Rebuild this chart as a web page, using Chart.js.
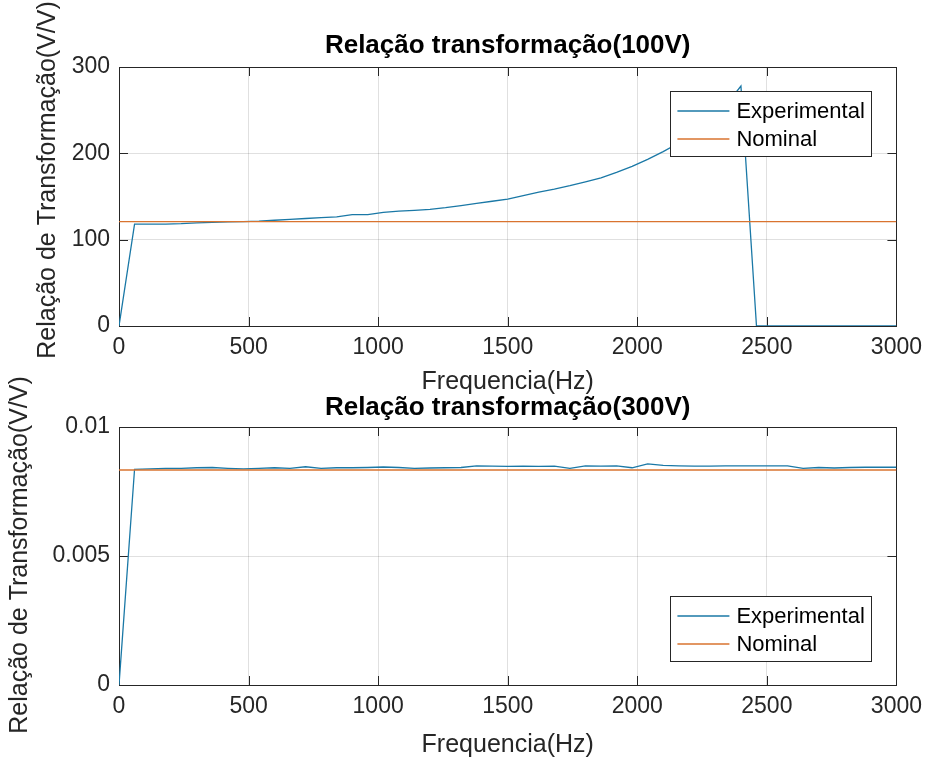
<!DOCTYPE html>
<html>
<head>
<meta charset="utf-8">
<script src="https://cdn.jsdelivr.net/npm/chart.js@4.4.1/dist/chart.umd.min.js"></script>
<style>
  html, body { margin: 0; padding: 0; background: #ffffff; }
  body { width: 930px; height: 762px; position: relative; overflow: hidden; }
  canvas { position: absolute; left: 0; }
  #c1 { top: 0px; }
  #c2 { top: 362px; }
</style>
</head>
<body>
<canvas id="c1" width="930" height="400"></canvas>
<canvas id="c2" width="930" height="400"></canvas>
<script>
// ---------------- data ----------------
const freqHz = [0, 60, 120, 180, 240, 300, 360, 420, 480, 540, 600, 660, 720, 780, 840, 900, 960, 1020, 1080, 1140,
  1200, 1260, 1320, 1380, 1440, 1500, 1560, 1620, 1680, 1740, 1800, 1860, 1920, 1980, 2040, 2100, 2160, 2220, 2280,
  2340, 2400, 2460, 2520, 2580, 2640, 2700, 2760, 2820, 2880, 2940, 3000];

const experimental100V = [0, 118, 118, 118, 118.5, 119.5, 120, 120.5, 121, 121.5, 122.5, 123.5, 124.5, 125.5, 126.5,
  129, 129, 131.5, 133, 134, 135, 137, 139.5, 142, 144.5, 147, 151, 155, 158.5, 162.5, 167, 171.5, 178, 185, 193,
  202, 212, 224, 238, 255, 278, 0, 0, 0, 0, 0, 0, 0, 0, 0, 0];

const experimental300V = [0, 0.00836, 0.00838, 0.0084, 0.0084, 0.00842, 0.00843, 0.0084, 0.00838, 0.0084, 0.00842,
  0.0084, 0.00846, 0.0084, 0.00842, 0.00842, 0.00843, 0.00845, 0.00843, 0.0084, 0.00841, 0.00842, 0.00843, 0.00849,
  0.00848, 0.00847, 0.00848, 0.00847, 0.00848, 0.0084, 0.00849, 0.00848, 0.00849, 0.00842, 0.00857, 0.00851, 0.00849,
  0.00848, 0.00848, 0.00849, 0.00849, 0.00849, 0.00849, 0.00849, 0.0084, 0.00843, 0.00841, 0.00843, 0.00844, 0.00844,
  0.00844];

const nominalFreqHz = [0, 3000];
const nominal100V = [121, 121];
const nominal300V = [0.008333, 0.008333];

const xTickLabels = ['0', '500', '1000', '1500', '2000', '2500', '3000'];
const yTickLabels100V = ['0', '100', '200', '300'];
const yTickLabels300V = ['0', '0.005', '0.01'];

const seriesNames = ['Experimental', 'Nominal'];
const titles = ['Relação transformação(100V)', 'Relação transformação(300V)'];
const xAxisLabel = 'Frequencia(Hz)';
const yAxisLabel = 'Relação de Transformação(V/V)';

// ---------------- style ----------------
const FONT = '"Liberation Sans", Arial, Helvetica, sans-serif';
const AXIS_COLOR = '#262626';
const EXP_COLOR = '#1a78a6';
const NOM_COLOR = '#d9732f';

function pts(xs, ys) { return xs.map((x, i) => ({ x: x, y: ys[i] })); }

function decor(cfg) {
  return {
    id: 'decor',
    afterLayout(chart) {
      // centre the title over the plot area, as MATLAB does
      if (chart.titleBlock) {
        chart.titleBlock.left = chart.chartArea.left;
        chart.titleBlock.right = chart.chartArea.right;
      }
    },
    beforeDatasetsDraw(chart) {
      const ctx = chart.ctx, a = chart.chartArea;
      const xs = chart.scales.x, ys = chart.scales.y;
      ctx.save();
      ctx.strokeStyle = AXIS_COLOR;
      ctx.lineWidth = 1;
      ctx.strokeRect(Math.round(a.left) + 0.5, Math.round(a.top) + 0.5,
        Math.round(a.right - a.left), Math.round(a.bottom - a.top));
      const TL = 9;
      ctx.beginPath();
      xs.ticks.forEach(t => {
        const px = Math.round(xs.getPixelForValue(t.value)) + 0.5;
        ctx.moveTo(px, a.bottom); ctx.lineTo(px, a.bottom - TL);
        ctx.moveTo(px, a.top); ctx.lineTo(px, a.top + TL);
      });
      ys.ticks.forEach(t => {
        const py = Math.round(ys.getPixelForValue(t.value)) + 0.5;
        ctx.moveTo(a.left, py); ctx.lineTo(a.left + TL, py);
        ctx.moveTo(a.right, py); ctx.lineTo(a.right - TL, py);
      });
      ctx.stroke();
      ctx.restore();
    },
    afterDatasetsDraw(chart) {
      const ctx = chart.ctx, a = chart.chartArea;
      // legend box
      const w = 201, h = 65;
      const left = a.right - 25 - w;
      const top = cfg.legendTop ? a.top + 24 : a.bottom - 24 - h;
      ctx.save();
      ctx.fillStyle = '#ffffff';
      ctx.fillRect(left, top, w, h);
      ctx.strokeStyle = AXIS_COLOR;
      ctx.lineWidth = 1;
      ctx.strokeRect(Math.round(left) + 0.5, Math.round(top) + 0.5, w, h);
      const rows = [top + 20, top + 48];
      const cols = [EXP_COLOR, NOM_COLOR];
      rows.forEach((ry, i) => {
        ctx.strokeStyle = cols[i];
        ctx.lineWidth = 1.3;
        ctx.beginPath();
        ctx.moveTo(left + 7, ry); ctx.lineTo(left + 59, ry);
        ctx.stroke();
        ctx.fillStyle = '#000000';
        ctx.font = '22px ' + FONT;
        ctx.textAlign = 'left';
        ctx.textBaseline = 'middle';
        ctx.fillText(chart.data.datasets[i].label, left + 66, ry + 1);
      });
      ctx.restore();
    },
    afterDraw(chart) {
      const ctx = chart.ctx;
      ctx.save();
      ctx.translate(cfg.ylabelX, cfg.ylabelY);
      ctx.rotate(-Math.PI / 2);
      ctx.font = '25px ' + FONT;
      ctx.fillStyle = AXIS_COLOR;
      ctx.textAlign = 'center';
      ctx.textBaseline = 'middle';
      ctx.fillText(yAxisLabel, 0, 0);
      ctx.restore();
    }
  };
}

function makeChart(id, expData, nomData, yMax, yStep, yLabels, title, cfg) {
  return new Chart(document.getElementById(id), {
    type: 'line',
    data: {
      datasets: [
        { label: seriesNames[0], data: pts(freqHz, expData), borderColor: EXP_COLOR, borderWidth: 1.3,
          pointRadius: 0, tension: 0, fill: false, order: 1 },
        { label: seriesNames[1], data: pts(nominalFreqHz, nomData), borderColor: NOM_COLOR, borderWidth: 1.3,
          pointRadius: 0, tension: 0, fill: false, order: 0 }
      ]
    },
    options: {
      responsive: false,
      animation: false,
      devicePixelRatio: 1,
      layout: { padding: { left: 0, right: 28, top: 0, bottom: 0 } },
      plugins: {
        legend: { display: false },
        tooltip: { enabled: false },
        title: {
          display: true, text: title, color: '#000000',
          font: { family: FONT, size: 26, weight: 'bold', lineHeight: 1.2 },
          padding: { top: 30.4, bottom: cfg.titleBottom }
        }
      },
      scales: {
        x: {
          type: 'linear', min: 0, max: 3000,
          ticks: { stepSize: 500, padding: 8, color: AXIS_COLOR, maxRotation: 0, autoSkip: false,
            font: { family: FONT, size: 23 }, callback: (v, i) => xTickLabels[i] },
          grid: { color: 'rgba(0,0,0,0.12)', drawTicks: false, lineWidth: 1 },
          border: { display: false },
          title: { display: true, text: xAxisLabel, color: AXIS_COLOR,
            font: { family: FONT, size: 25, lineHeight: 1.2 }, padding: { top: 0, bottom: cfg.xlabelPad } },
          afterFit: s => { s.height = cfg.xHeight; }
        },
        y: {
          type: 'linear', min: 0, max: yMax,
          ticks: { stepSize: yStep, padding: 9, color: AXIS_COLOR,
            font: { family: FONT, size: 23 }, callback: (v, i) => yLabels[i] },
          grid: { color: 'rgba(0,0,0,0.12)', drawTicks: false, lineWidth: 1 },
          border: { display: false },
          afterFit: s => { s.width = 119; }
        }
      }
    },
    plugins: [decor(cfg)]
  });
}

makeChart('c1', experimental100V, nominal100V, 300, 100, yTickLabels100V, titles[0],
  { titleBottom: 5.4, xHeight: 74, xlabelPad: 3, legendTop: true, ylabelX: 48, ylabelY: 180 });
makeChart('c2', experimental300V, nominal300V, 0.01, 0.005, yTickLabels300V, titles[1],
  { titleBottom: 3.4, xHeight: 77, xlabelPad: 2, legendTop: false, ylabelX: 20, ylabelY: 193 });
</script>
</body>
</html>
